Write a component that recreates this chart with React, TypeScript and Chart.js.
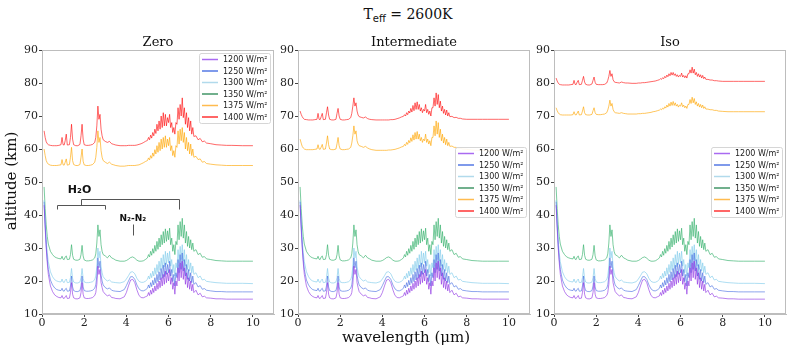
import React, { useEffect, useRef } from "react";
import { Chart, registerables } from "chart.js";

Chart.register(...registerables);

// ---------------- DATA ----------------
const wavelength = [
  0.1, 0.15, 0.2, 0.25, 0.3, 0.4, 0.5, 0.6, 0.7, 0.8, 0.9, 0.95, 1.0,
  1.05, 1.1, 1.15, 1.2, 1.3, 1.35, 1.4, 1.45, 1.5, 1.6, 1.7, 1.8, 1.85, 1.9, 1.95, 2.0,
  2.1, 2.2, 2.3, 2.4, 2.5, 2.55, 2.6, 2.65, 2.7, 2.75, 2.8, 2.85, 2.9, 3.0,
  3.1, 3.2, 3.3, 3.4, 3.5, 3.7, 3.9, 4.0, 4.1, 4.2, 4.3, 4.4, 4.5, 4.6, 4.7, 4.8, 4.9,
  5.0, 5.05, 5.1, 5.15, 5.2, 5.25, 5.3, 5.35, 5.4, 5.45, 5.5, 5.55, 5.6, 5.65, 5.7, 5.75, 5.8, 5.85, 5.9, 5.95,
  6.0, 6.05, 6.1, 6.15, 6.2, 6.25, 6.3, 6.35, 6.4, 6.45, 6.5, 6.55, 6.6, 6.65, 6.7, 6.75, 6.8, 6.85, 6.9, 6.95,
  7.0, 7.05, 7.1, 7.15, 7.2, 7.3, 7.4, 7.5, 7.6, 7.7, 7.8, 8.0, 8.25, 8.5, 8.75, 9.0, 9.5, 10.0,
];

const alt1200 = [
  43, 36, 30, 25.5, 22, 18.5, 16.8, 15.8, 15.3, 15.0, 14.9, 15.6, 14.8,
  14.7, 15.2, 15.6, 14.7, 14.8, 16.5, 19.5, 16, 14.9, 14.6, 14.6, 14.9, 16.5, 19.5, 16, 14.9,
  14.7, 14.7, 14.8, 15.0, 15.6, 16.5, 19, 24.5, 22, 23.5, 19.5, 18, 16.8, 16,
  15.5, 15.8, 15.0, 14.9, 14.7, 14.6, 15.2, 16.5, 18.5, 20.3, 20.5, 19.5, 17.3, 15.6, 15.0, 14.9, 15.2,
  15.5, 16.5, 15.6, 17.2, 16.0, 17.8, 16.5, 18.5, 17.0, 19.3, 17.5, 20.0, 18.0, 21.0, 18.5, 22.0, 19.0, 23.0, 19.5, 22.5,
  20.0, 23.5, 19.0, 21.0, 17.5, 19.5, 16.0, 20.0, 18.5, 24.0, 20.0, 25.5, 21.0, 26.0, 20.5, 24.0, 19.0, 22.5, 18.0, 21.0,
  17.5, 20.0, 17.0, 19.0, 16.5, 17.2, 15.8, 16.3, 15.2, 15.4, 14.9, 14.8, 14.6, 14.6, 14.5, 14.5, 14.5, 14.5,
];

const alt1250 = [
  44, 37, 31, 26.5, 23.5, 20.3, 18.8, 17.9, 17.4, 17.2, 17.1, 17.8, 17.0,
  16.9, 17.5, 17.8, 16.9, 17.0, 18.5, 21.5, 18.2, 17.1, 16.8, 16.8, 17.1, 18.5, 21.5, 18.2, 17.1,
  16.9, 16.9, 17.0, 17.2, 17.8, 18.8, 21.5, 27, 24, 26, 21.8, 20, 18.8, 18,
  17.6, 17.9, 17.2, 17.0, 16.9, 16.8, 17.4, 18.6, 20.0, 21.3, 21.3, 20.5, 18.8, 17.6, 17.1, 17.0, 17.3,
  17.8, 18.8, 17.9, 19.5, 18.3, 20.2, 18.8, 21.0, 19.3, 22.0, 19.8, 22.8, 20.3, 23.8, 20.8, 24.8, 21.3, 25.5, 22.0, 25.0,
  22.5, 26.0, 21.5, 23.5, 19.8, 22.0, 18.5, 22.5, 21.0, 26.5, 22.5, 28.0, 23.5, 28.5, 23.0, 26.5, 21.5, 25.0, 20.5, 23.5,
  20.0, 22.5, 19.5, 21.5, 19.0, 19.5, 18.2, 18.6, 17.5, 17.7, 17.2, 17.0, 16.8, 16.8, 16.7, 16.7, 16.7, 16.7,
];

const alt1300 = [
  44.5, 38, 32.5, 28.5, 25.8, 22.8, 21.3, 20.4, 20.0, 19.8, 19.7, 20.6, 19.7,
  19.5, 20.2, 20.6, 19.5, 19.6, 21.0, 23.8, 20.8, 19.7, 19.4, 19.4, 19.7, 21.0, 23.8, 20.8, 19.7,
  19.5, 19.5, 19.6, 19.8, 20.4, 21.5, 24.5, 30.0, 27.0, 29.0, 24.5, 22.5, 21.3, 20.5,
  20.0, 20.3, 19.7, 19.6, 19.5, 19.4, 19.8, 20.6, 21.6, 22.7, 22.8, 22.2, 20.8, 19.9, 19.6, 19.6, 19.9,
  20.5, 21.5, 20.6, 22.3, 21.0, 23.0, 21.5, 24.0, 22.0, 25.0, 22.6, 26.0, 23.2, 27.0, 23.8, 28.0, 24.3, 29.0, 25.0, 28.5,
  25.5, 29.0, 24.5, 26.5, 22.5, 25.0, 21.5, 25.5, 24.0, 29.5, 25.5, 30.5, 26.5, 31.0, 26.0, 29.5, 24.5, 28.0, 23.5, 26.5,
  23.0, 25.5, 22.5, 24.5, 22.0, 22.5, 21.0, 21.5, 20.3, 20.5, 19.9, 19.7, 19.5, 19.4, 19.3, 19.3, 19.3, 19.2,
];

const alt1350 = [
  48.5, 42, 37, 33.5, 31.2, 29.0, 28.0, 27.3, 27.0, 26.8, 26.7, 27.5, 26.6,
  26.5, 27.3, 27.6, 26.5, 26.6, 28.0, 31.0, 27.8, 26.6, 26.3, 26.3, 26.6, 28.0, 30.8, 27.6, 26.4,
  26.1, 26.1, 26.2, 26.4, 27.0, 28.2, 31.5, 37.0, 33.5, 35.5, 31.0, 29.0, 28.0, 27.6,
  27.0, 27.8, 27.0, 26.7, 26.3, 26.0, 26.0, 26.2, 26.6, 27.1, 27.3, 26.9, 26.3, 26.0, 26.0, 26.1, 26.5,
  27.0, 28.0, 27.3, 29.0, 27.8, 29.8, 28.4, 30.8, 29.0, 32.0, 29.6, 33.0, 30.3, 34.0, 31.0, 35.0, 31.5, 35.8, 32.0, 35.2,
  32.5, 36.0, 31.0, 33.0, 29.0, 31.0, 28.0, 32.0, 31.0, 37.0, 32.5, 38.0, 33.5, 39.0, 33.0, 37.0, 31.5, 35.0, 30.5, 33.5,
  30.0, 32.5, 29.5, 31.5, 29.0, 29.5, 28.0, 28.4, 27.2, 27.4, 26.7, 26.5, 26.2, 26.1, 26.0, 26.0, 26.0, 26.0,
];

const zero1375 = [
  60.0, 58.0, 56.5, 55.8, 55.4, 55.1, 55.0, 55.0, 55.0, 55.1, 55.2, 56.8, 55.2,
  55.1, 56.0, 57.0, 55.1, 55.3, 57.5, 60.5, 56.5, 55.3, 55.0, 55.0, 55.3, 57.5, 60.0, 56.3, 55.2,
  55.0, 55.0, 55.1, 55.3, 56.0, 57.5, 60.5, 65.5, 62.0, 63.5, 59.5, 57.5, 56.5, 56.0,
  55.6, 56.0, 55.4, 55.2, 55.0, 54.8, 54.8, 54.9, 55.0, 55.0, 55.0, 55.0, 55.1, 55.2, 55.5, 55.8, 56.2,
  56.5, 57.3, 56.7, 58.0, 57.2, 58.8, 57.8, 59.8, 58.5, 61.0, 59.0, 62.0, 59.5, 63.0, 60.0, 63.5, 60.5, 64.0, 60.5, 63.0,
  61.0, 63.5, 59.5, 61.0, 58.0, 59.5, 57.5, 61.0, 60.5, 65.5, 61.5, 66.0, 62.5, 66.5, 62.0, 65.0, 60.0, 63.5, 59.5, 62.0,
  58.5, 61.5, 58.0, 60.0, 57.5, 57.8, 56.8, 57.0, 56.0, 56.2, 55.6, 55.4, 55.2, 55.1, 55.0, 55.0, 55.0, 55.0,
];

const zero1400 = [
  65.5, 63.5, 62.2, 61.6, 61.3, 61.1, 61.0, 61.0, 61.0, 61.1, 61.3, 63.5, 61.3,
  61.2, 62.5, 64.5, 61.2, 61.3, 63.5, 67.5, 63.0, 61.3, 61.0, 61.0, 61.4, 64.0, 67.5, 63.0, 61.3,
  61.1, 61.1, 61.2, 61.4, 62.0, 63.5, 67.0, 73.0, 69.0, 70.5, 66.0, 64.0, 62.8, 62.3,
  62.0, 62.3, 61.6, 61.4, 61.2, 61.0, 61.0, 61.0, 61.1, 61.1, 61.1, 61.1, 61.2, 61.4, 61.6, 61.9, 62.3,
  62.6, 63.5, 62.8, 64.2, 63.3, 65.0, 64.0, 66.0, 64.7, 67.5, 65.5, 68.5, 66.0, 70.0, 66.5, 71.0, 67.0, 70.5, 67.0, 69.5,
  68.0, 70.5, 66.5, 68.0, 65.0, 66.5, 64.5, 68.0, 67.5, 72.5, 69.0, 73.5, 70.0, 75.5, 69.5, 72.5, 67.5, 71.0, 66.5, 69.5,
  65.5, 68.5, 64.5, 66.5, 63.8, 64.0, 62.8, 63.2, 62.2, 62.4, 61.8, 61.6, 61.3, 61.2, 61.1, 61.1, 61.0, 61.0,
];

const inter1375 = [
  63.0, 61.8, 60.8, 60.3, 60.0, 59.8, 59.8, 59.8, 59.8, 59.9, 60.0, 61.3, 60.0,
  59.9, 60.6, 61.4, 59.9, 60.0, 61.8, 64.0, 61.3, 60.0, 59.8, 59.8, 60.0, 61.6, 63.5, 61.0, 60.0,
  59.8, 59.8, 59.9, 60.0, 60.5, 61.8, 64.0, 67.0, 64.5, 65.5, 62.5, 61.5, 61.0, 60.8,
  60.5, 60.8, 60.3, 60.0, 59.8, 59.6, 59.6, 59.6, 59.6, 59.6, 59.7, 59.7, 59.8, 59.9, 60.1, 60.3, 60.6,
  60.8, 61.4, 61.0, 62.0, 61.4, 62.6, 61.9, 63.4, 62.3, 64.3, 62.7, 65.0, 63.0, 65.3, 63.0, 64.5, 62.5, 63.5, 62.0, 63.0,
  62.5, 64.5, 62.0, 63.0, 61.5, 62.5, 61.0, 63.5, 63.5, 67.0, 64.0, 68.5, 64.5, 68.0, 63.5, 66.0, 62.5, 64.5, 61.8, 63.5,
  61.3, 63.0, 61.0, 62.0, 60.8, 60.9, 60.5, 60.5, 60.2, 60.2, 60.0, 59.9, 59.7, 59.6, 59.6, 59.5, 59.5, 59.5,
];

const inter1400 = [
  71.5, 70.5, 69.8, 69.3, 69.0, 68.9, 68.8, 68.8, 68.8, 68.9, 69.0, 70.8, 69.0,
  68.9, 69.8, 70.8, 68.9, 69.0, 71.0, 72.8, 70.3, 69.0, 68.8, 68.8, 69.0, 70.8, 72.3, 70.0, 69.0,
  68.8, 68.8, 68.9, 69.0, 69.5, 70.8, 73.0, 75.5, 73.0, 74.0, 71.5, 70.3, 69.8, 69.6,
  69.4, 69.7, 69.2, 69.0, 68.9, 68.8, 68.8, 68.8, 68.8, 68.8, 68.8, 68.9, 68.9, 69.0, 69.2, 69.4, 69.7,
  69.9, 70.4, 70.0, 71.0, 70.4, 71.5, 70.9, 72.3, 71.2, 73.2, 71.6, 74.0, 72.0, 74.3, 72.0, 73.5, 71.5, 72.5, 71.0, 72.0,
  71.5, 73.5, 71.0, 72.0, 70.5, 71.5, 70.0, 72.5, 72.5, 75.5, 73.0, 77.0, 73.5, 76.5, 72.5, 74.5, 71.5, 73.0, 70.8, 72.0,
  70.3, 71.8, 70.0, 71.0, 69.8, 69.9, 69.5, 69.6, 69.3, 69.3, 69.1, 69.0, 69.0, 69.0, 69.0, 69.0, 69.0, 69.0,
];

const iso1375 = [
  72.5, 71.6, 71.0, 70.6, 70.4, 70.3, 70.3, 70.3, 70.3, 70.3, 70.4, 71.3, 70.4,
  70.3, 70.9, 71.5, 70.3, 70.4, 71.5, 72.8, 71.0, 70.4, 70.3, 70.3, 70.5, 71.6, 72.5, 71.0, 70.5,
  70.4, 70.4, 70.5, 70.6, 71.0, 71.8, 73.0, 74.8, 73.0, 73.8, 72.0, 71.3, 71.0, 70.9,
  70.8, 71.0, 70.8, 70.7, 70.6, 70.6, 70.6, 70.7, 70.7, 70.8, 70.8, 70.9, 71.0, 71.1, 71.3, 71.4, 71.6,
  71.8, 72.1, 71.9, 72.4, 72.1, 72.8, 72.4, 73.3, 72.7, 73.8, 73.0, 74.2, 73.2, 74.4, 73.2, 74.0, 73.0, 73.5, 72.7, 73.3,
  73.0, 74.0, 72.8, 73.3, 72.5, 73.0, 72.3, 73.5, 73.5, 75.0, 73.8, 75.7, 74.0, 75.3, 73.5, 74.3, 73.0, 73.8, 72.7, 73.5,
  72.5, 73.3, 72.3, 72.8, 72.1, 72.1, 71.9, 71.9, 71.7, 71.7, 71.5, 71.4, 71.3, 71.3, 71.3, 71.3, 71.3, 71.3,
];

const iso1400 = [
  81.5, 80.6, 80.0, 79.6, 79.5, 79.4, 79.4, 79.4, 79.4, 79.5, 79.6, 80.8, 79.6,
  79.5, 80.3, 80.8, 79.5, 79.6, 80.8, 82.0, 80.3, 79.6, 79.4, 79.4, 79.7, 80.8, 81.8, 80.2, 79.6,
  79.5, 79.5, 79.5, 79.6, 80.0, 80.8, 82.0, 83.8, 82.0, 82.8, 81.0, 80.4, 80.2, 80.1,
  80.0, 80.3, 80.1, 80.0, 80.0, 79.9, 79.9, 80.0, 80.0, 80.1, 80.1, 80.2, 80.3, 80.4, 80.5, 80.6, 80.8,
  81.0, 81.3, 81.1, 81.6, 81.3, 82.0, 81.6, 82.4, 81.9, 82.8, 82.2, 83.2, 82.4, 83.2, 82.3, 82.8, 82.0, 82.5, 81.8, 82.3,
  82.0, 83.0, 81.8, 82.3, 81.6, 82.2, 81.5, 82.8, 82.8, 84.0, 83.0, 84.8, 83.0, 84.2, 82.5, 83.2, 82.0, 82.8, 81.8, 82.5,
  81.5, 82.3, 81.3, 81.8, 81.1, 81.1, 80.9, 80.9, 80.7, 80.7, 80.6, 80.5, 80.5, 80.5, 80.5, 80.5, 80.5, 80.5,
];

const seriesLabels = ["1200 W/m²", "1250 W/m²", "1300 W/m²", "1350 W/m²", "1375 W/m²", "1400 W/m²"];
const panelTitles = ["Zero", "Intermediate", "Iso"];
const xTicks = [0, 2, 4, 6, 8, 10];
const yTicks = [10, 20, 30, 40, 50, 60, 70, 80, 90];

const zeroSeries = [alt1200, alt1250, alt1300, alt1350, zero1375, zero1400];
const interSeries = [alt1200, alt1250, alt1300, alt1350, inter1375, inter1400];
const isoSeries = [alt1200, alt1250, alt1300, alt1350, iso1375, iso1400];

// ---------------- STYLE ----------------
const lineColors = [
  "rgba(138, 43, 226, 0.75)",
  "rgba(65, 105, 225, 0.75)",
  "rgba(135, 206, 235, 0.85)",
  "rgba(60, 179, 113, 0.85)",
  "rgba(255, 165, 0, 0.8)",
  "rgba(255, 0, 0, 0.75)",
];
const legendColors = [
  "rgba(160, 90, 240, 0.9)",
  "rgba(65, 105, 225, 0.9)",
  "rgba(173, 216, 235, 0.95)",
  "rgba(46, 139, 87, 0.9)",
  "rgba(255, 180, 60, 0.9)",
  "rgba(255, 30, 30, 0.9)",
];

const SERIF = "'DejaVu Serif', serif";
const SANS = "'DejaVu Sans', sans-serif";

const framePlugin = {
  id: "frame",
  afterDraw(chart: any) {
    const { ctx, chartArea } = chart;
    ctx.save();
    ctx.strokeStyle = "#bdbdbd";
    ctx.lineWidth = 1;
    ctx.strokeRect(chartArea.left + 0.5, chartArea.top + 0.5, chartArea.right - chartArea.left - 1, chartArea.bottom - chartArea.top - 1);
    ctx.restore();
  },
};

function makeTitlePlugin(title: string) {
  return {
    id: "panelTitle",
    afterDraw(chart: any) {
      const { ctx, chartArea } = chart;
      ctx.save();
      ctx.font = `13px ${SERIF}`;
      ctx.fillStyle = "#111";
      ctx.textAlign = "center";
      ctx.textBaseline = "alphabetic";
      ctx.fillText(title, (chartArea.left + chartArea.right) / 2, chartArea.top - 4);
      ctx.restore();
    },
  };
}

function makeLegendPlugin(where: "upper" | "center") {
  return {
    id: "customLegend",
    afterDatasetsDraw(chart: any) {
      const { ctx, chartArea } = chart;
      const w = 71;
      const h = 70;
      const x0 = chartArea.right - 4 - w;
      const y0 = where === "upper" ? chartArea.top + 3 : (chartArea.top + chartArea.bottom) / 2 - h / 2;
      ctx.save();
      ctx.fillStyle = "rgba(255,255,255,0.9)";
      ctx.strokeStyle = "#d6d6d6";
      ctx.lineWidth = 1;
      ctx.beginPath();
      const r = 2;
      ctx.moveTo(x0 + r, y0 + 0.5);
      ctx.arcTo(x0 + w + 0.5, y0 + 0.5, x0 + w + 0.5, y0 + h, r);
      ctx.arcTo(x0 + w + 0.5, y0 + h + 0.5, x0, y0 + h + 0.5, r);
      ctx.arcTo(x0 + 0.5, y0 + h + 0.5, x0 + 0.5, y0, r);
      ctx.arcTo(x0 + 0.5, y0 + 0.5, x0 + w, y0 + 0.5, r);
      ctx.closePath();
      ctx.fill();
      ctx.stroke();
      ctx.font = `8px ${SANS}`;
      ctx.textBaseline = "middle";
      ctx.textAlign = "left";
      seriesLabels.forEach((lab, i) => {
        const y = y0 + 6.5 + i * 11.5;
        ctx.strokeStyle = legendColors[i];
        ctx.lineWidth = 1.5;
        ctx.beginPath();
        ctx.moveTo(x0 + 3, y);
        ctx.lineTo(x0 + 19, y);
        ctx.stroke();
        ctx.fillStyle = "#222";
        ctx.fillText(lab, x0 + 24, y + 0.5);
      });
      ctx.restore();
    },
  };
}

const annotationPlugin = {
  id: "annotations",
  afterDatasetsDraw(chart: any) {
    const { ctx } = chart;
    const xs = chart.scales.x;
    const ys = chart.scales.y;
    const px = (v: number) => Math.round(xs.getPixelForValue(v)) + 0.5;
    const py = (v: number) => Math.round(ys.getPixelForValue(v)) + 0.5;
    ctx.save();
    ctx.strokeStyle = "#555";
    ctx.lineWidth = 1;
    ctx.beginPath();
    // main bracket
    ctx.moveTo(px(1.84), py(43.1));
    ctx.lineTo(px(1.84), py(44.85));
    ctx.lineTo(px(6.5), py(44.85));
    ctx.lineTo(px(6.5), py(41.8));
    // sub bracket
    ctx.moveTo(px(0.71), py(41.8));
    ctx.lineTo(px(0.71), py(43.1));
    ctx.lineTo(px(2.99), py(43.1));
    ctx.lineTo(px(2.99), py(41.8));
    // N2-N2 marker
    ctx.moveTo(px(4.31), py(37.3));
    ctx.lineTo(px(4.31), py(33.9));
    ctx.stroke();
    ctx.fillStyle = "#111";
    ctx.textAlign = "center";
    ctx.textBaseline = "middle";
    ctx.font = `bold 11px ${SANS}`;
    ctx.fillText("H₂O", xs.getPixelForValue(1.78), ys.getPixelForValue(47.6));
    ctx.font = `bold 9px ${SANS}`;
    ctx.fillText("N₂-N₂", xs.getPixelForValue(4.31), ys.getPixelForValue(38.8));
    ctx.restore();
  },
};

type PanelProps = {
  title: string;
  series: number[][];
  legend: "upper" | "center";
  left: number;
  padRight: number;
  annotate?: boolean;
};

function Panel({ title, series, legend, left, padRight, annotate }: PanelProps) {
  const ref = useRef<HTMLCanvasElement>(null);
  const width = 30 + 232 + padRight;
  const height = 354;
  useEffect(() => {
    if (!ref.current) return;
    const plugins: any[] = [framePlugin, makeTitlePlugin(title), makeLegendPlugin(legend)];
    if (annotate) plugins.push(annotationPlugin);
    const tickStyle = { color: "#222", font: { family: SERIF, size: 11 } };
    const chart = new Chart(ref.current, {
      type: "line",
      data: {
        datasets: series.map((s, i) => ({
          label: seriesLabels[i],
          data: wavelength.map((x, j) => ({ x, y: s[j] })),
          borderColor: lineColors[i],
          backgroundColor: lineColors[i],
          borderWidth: 0.8,
          pointRadius: 0,
          fill: false,
          tension: 0,
        })),
      },
      options: {
        responsive: false,
        animation: false,
        devicePixelRatio: 1,
        events: [],
        layout: { padding: { top: 50, right: padRight, left: 0, bottom: 0 } },
        plugins: { legend: { display: false }, tooltip: { enabled: false }, title: { display: false } },
        scales: {
          x: {
            type: "linear",
            min: 0,
            max: 11,
            afterBuildTicks: (s: any) => {
              s.ticks = xTicks.map((v) => ({ value: v }));
            },
            afterFit: (s: any) => {
              s.height = 40;
            },
            ticks: { ...tickStyle, padding: 0, maxRotation: 0, autoSkip: false },
            grid: { display: true, drawOnChartArea: false, drawTicks: true, tickLength: 3, color: "#444" },
            border: { display: true, color: "#bdbdbd" },
          },
          y: {
            type: "linear",
            min: 10,
            max: 90,
            afterBuildTicks: (s: any) => {
              s.ticks = yTicks.map((v) => ({ value: v }));
            },
            afterFit: (s: any) => {
              s.width = 30;
            },
            ticks: { ...tickStyle, padding: 1, autoSkip: false },
            grid: { display: true, drawOnChartArea: false, drawTicks: true, tickLength: 3, color: "#444" },
            border: { display: true, color: "#bdbdbd" },
          },
        },
      } as any,
      plugins,
    });
    return () => chart.destroy();
  }, []);
  return (
    <canvas
      ref={ref}
      width={width}
      height={height}
      style={{ position: "absolute", left, top: 0, width, height, display: "block" }}
    />
  );
}

export default function App() {
  useEffect(() => {
    document.body.style.margin = "0";
  }, []);
  return (
    <div style={{ position: "relative", width: 787, height: 354, background: "#fff", overflow: "hidden" }}>
      <div
        style={{
          position: "absolute",
          left: 308,
          top: 5,
          width: 200,
          textAlign: "center",
          fontFamily: SERIF,
          fontSize: 14,
          lineHeight: "18px",
          color: "#111",
        }}
      >
        T<sub style={{ fontFamily: SANS, fontSize: 10, verticalAlign: "-3px" }}>eff</sub> = 2600K
      </div>
      <Panel title={panelTitles[0]} series={zeroSeries} legend="upper" left={12} padRight={2} annotate />
      <Panel title={panelTitles[1]} series={interSeries} legend="center" left={268} padRight={2} />
      <Panel title={panelTitles[2]} series={isoSeries} legend="center" left={524} padRight={1} />
      <div
        style={{
          position: "absolute",
          left: 306,
          top: 328,
          width: 200,
          textAlign: "center",
          fontFamily: SERIF,
          fontSize: 15,
          lineHeight: "18px",
          color: "#111",
        }}
      >
        wavelength (μm)
      </div>
      <div
        style={{
          position: "absolute",
          left: -89,
          top: 172,
          width: 200,
          height: 18,
          textAlign: "center",
          fontFamily: SERIF,
          fontSize: 15,
          lineHeight: "18px",
          color: "#111",
          transform: "rotate(-90deg)",
        }}
      >
        altitude (km)
      </div>
    </div>
  );
}
